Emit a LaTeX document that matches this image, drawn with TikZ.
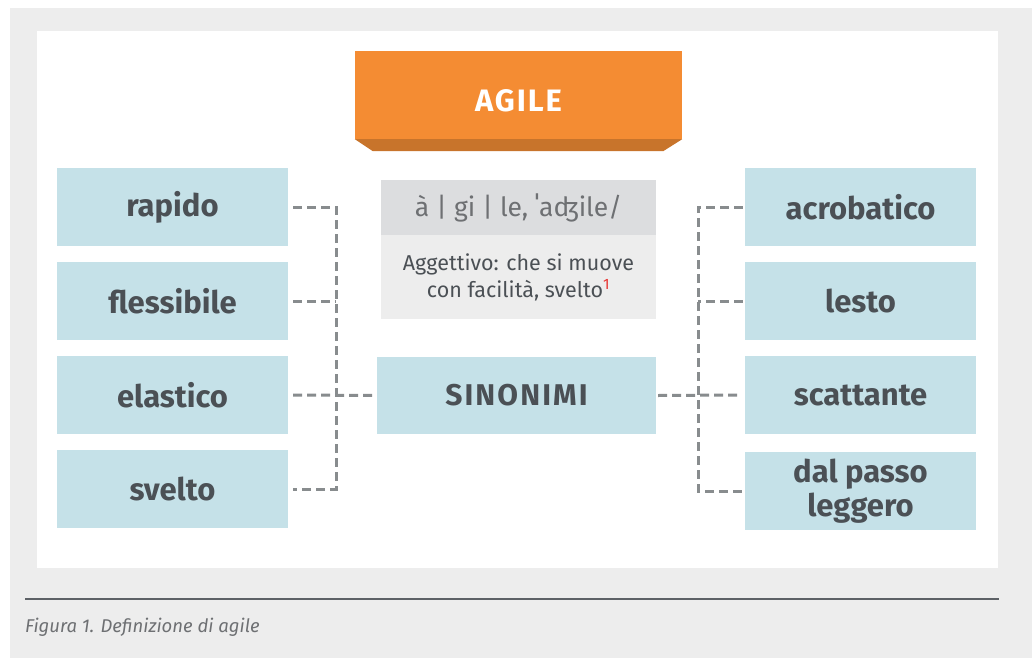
\documentclass[tikz,border=0pt]{standalone}
\usepackage{fontspec}
\setmainfont{Fira Sans}
\usepackage{xcolor}
\usetikzlibrary{
	positioning,
	calc
}
\definecolor{agileorange}{HTML}{F48C33}
\definecolor{agileshade}{HTML}{C8742B}
\definecolor{synblue}{HTML}{C5E1E8}
\definecolor{textgrey}{HTML}{4B5055}
\definecolor{ipatext}{HTML}{6E7073}
\definecolor{dashgrey}{HTML}{888C8E}
\definecolor{panelgrey}{HTML}{EDEDED}
\definecolor{ipagrey}{HTML}{DCDDDF}
\definecolor{noteRed}{HTML}{E8322F}

\begin{document}
\begin{tikzpicture}[
		x=1pt,y=-1pt,
		synonym/.style={
			fill=synblue,
			minimum width=231pt,
			minimum height=78pt,
			inner sep=0pt,
			align=center,
			text=textgrey,
			font=\bfseries\fontsize{31}{33}\selectfont
		},
		link/.style={
			draw=dashgrey,
			line width=3pt,
			dash pattern=on 9pt off 5pt
		}
		]
		
		% Background
		\fill[white] (0,0) rectangle (1032,658);
		\fill[panelgrey] (10,8) rectangle (1032,658);
		\fill[white] (37,31) rectangle (998,568);
		\useasboundingbox (0,0) rectangle (1032,658);
		
		% Title
		\node[fill=agileorange, minimum width=327pt, minimum height=88pt, inner sep=0pt,
			text height=32pt, text depth=0pt,
			text=white, font=\bfseries\fontsize{31}{33}\selectfont\addfontfeature{LetterSpace=6}] (agile) at (518.5,95) {AGILE};
		\fill[agileshade] (agile.south west) -- (agile.south east) -- ++(-19,12) -- ($(agile.south west)+(18,12)$) -- cycle;
		
		% Definition
		\node[fill=ipagrey, minimum width=275pt, minimum height=55pt, inner sep=0pt,
			text=ipatext, font=\fontsize{26.5}{30}\selectfont] (ipa) at (518.5,207.5) {à | gi | le, ˈaʤile/};
		\node[fill=panelgrey, minimum width=275pt, minimum height=84pt, inner sep=0pt, align=center,
			text=textgrey, font=\fontsize{21.5}{27}\selectfont, below=0pt of ipa] (meaning)
			{Aggettivo: che si muove\\con facilità, svelto\textcolor{noteRed}{\textsuperscript{1}}};
		
		\node[synonym, minimum width=279pt, minimum height=77pt,
			font=\bfseries\fontsize{30}{33}\selectfont\addfontfeature{LetterSpace=7}] (sinonimi) at (516.5,395.5) {SINONIMI};
		
		% Left synonyms
		\node[synonym] (rapido) at (172.5,207) {rapido};
		\node[synonym] (flessibile) at (172.5,301) {flessibile};
		\node[synonym] (elastico) at (172.5,395) {elastico};
		\node[synonym] (svelto) at (172.5,489) {svelto};
		
		% Right synonyms
		\node[synonym] (acrobatico) at (860.5,207) {acrobatico};
		\node[synonym] (lesto) at (860.5,301) {lesto};
		\node[synonym] (scattante) at (860.5,395) {scattante};
		\node[synonym, font=\bfseries\fontsize{31}{34}\selectfont] (passo) at (860.5,491) {dal passo\\leggero};
		
		\coordinate (ltrunk) at (336,0);
		\coordinate (rtrunk) at (698,0);
		
		\draw[link] ([xshift=5pt]rapido.east) -- (rapido.east -| ltrunk) -- (svelto.east -| ltrunk) -- ([xshift=5pt]svelto.east);
		\draw[link] ([xshift=5pt]flessibile.east) -- (flessibile.east -| ltrunk);
		\draw[link] ([xshift=5pt]elastico.east) -- ([xshift=-3pt]sinonimi.west);
		
		\draw[link] ([xshift=-2pt]acrobatico.west) -- (acrobatico.west -| rtrunk) -- (passo.west -| rtrunk) -- ([xshift=-3pt]passo.west);
		\draw[link] ([xshift=-2pt]lesto.west) -- (lesto.west -| rtrunk);
		\draw[link] ([xshift=2pt]sinonimi.east) -- ([xshift=-6pt]scattante.west);
		
		% Caption
		\draw[textgrey!90, line width=1.4pt] (25,599) -- (999,599);
		\node[anchor=west, inner sep=0pt, text=ipatext, font=\itshape\fontsize{18.5}{22}\selectfont] (caption) at (25,627) {Figura 1. Definizione di agile};
		
	\end{tikzpicture}
\end{document}
